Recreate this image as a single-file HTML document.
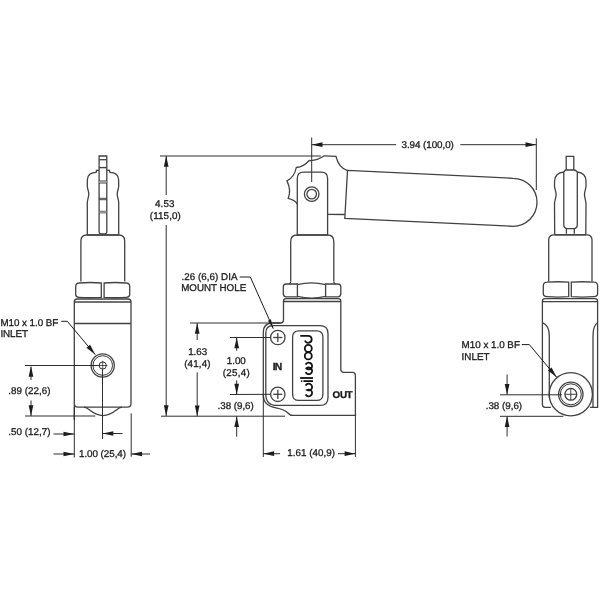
<!DOCTYPE html>
<html><head><meta charset="utf-8"><style>
html,body{margin:0;padding:0;background:#fff;width:600px;height:600px;overflow:hidden}
svg{display:block;filter:blur(0.3px)}
text{font-family:"Liberation Sans",sans-serif;text-rendering:geometricPrecision}
</style></head><body>
<svg width="600" height="600" viewBox="0 0 600 600">
<rect width="600" height="600" fill="#fff"/>
<path d="M99.1,232 V156 H106.8 V232 Q106.8,233.8 105,233.8 H100.9 Q99.1,233.8 99.1,232 Z" stroke="#424242" stroke-width="1.3" fill="none"/>
<line x1="99.1" y1="159.7" x2="106.8" y2="159.7" stroke="#424242" stroke-width="1.3"/>
<line x1="99.1" y1="167.6" x2="106.8" y2="167.6" stroke="#424242" stroke-width="1.4"/>
<line x1="99.1" y1="181" x2="106.8" y2="181" stroke="#2e2e2e" stroke-width="0.9"/>
<line x1="99.1" y1="183" x2="106.8" y2="183" stroke="#2e2e2e" stroke-width="0.9"/>
<line x1="99.1" y1="198.3" x2="106.8" y2="198.3" stroke="#2e2e2e" stroke-width="0.9"/>
<line x1="99.1" y1="199.7" x2="106.8" y2="199.7" stroke="#2e2e2e" stroke-width="0.9"/>
<line x1="99.1" y1="211.3" x2="106.8" y2="211.3" stroke="#2e2e2e" stroke-width="0.9"/>
<line x1="99.1" y1="212.8" x2="106.8" y2="212.8" stroke="#2e2e2e" stroke-width="0.9"/>
<rect x="99.1" y="181" width="7.7" height="2" fill="#999"/>
<rect x="99.1" y="211.3" width="7.7" height="1.5" fill="#999"/>
<path d="M96.4,172.4 V170.3 H99.1 M106.8,170.3 H109.6 V172.4" stroke="#424242" stroke-width="1.3" fill="none"/>
<path d="M96.4,172.4 C91.5,172.6 87.6,174.5 87.4,179.5 L87.3,186 C87.3,189 88.8,191 88.8,194 C88.8,197 87.3,199.5 87.3,203 L87.3,235 M109.6,172.4 C114.5,172.6 118.4,174.5 118.6,179.5 L118.7,186 C118.7,189 117.2,191 117.2,194 C117.2,197 118.7,199.5 118.7,203 L118.7,235" stroke="#424242" stroke-width="1.3" fill="none"/>
<line x1="87.3" y1="235" x2="118.7" y2="235" stroke="#424242" stroke-width="1.3"/>
<path d="M80.9,281.5 V241 Q80.9,235 86.9,235 H118.7 Q124.7,235 124.7,241 V281.5" stroke="#424242" stroke-width="1.3" fill="none"/>
<path d="M75.7,294.5 V286.5 Q75.7,283.2 79,283 Q90,282 101.3,283 V297.3 Q90,298.2 79,297.3 Q75.7,297.2 75.7,294.5 Z" stroke="#424242" stroke-width="1.3" fill="none"/>
<path d="M129.7,294.5 V286.5 Q129.7,283.2 126.4,283 Q115,282 104.1,283 V297.3 Q115,298.2 126.4,297.3 Q129.7,297.2 129.7,294.5 Z" stroke="#424242" stroke-width="1.3" fill="none"/>
<path d="M74.3,420 V302 Q74.3,299 77.3,299 H128 Q131,299 131,302 V403.5 Q131,407.2 127.3,407.2 H78 Q74.3,407.2 74.3,403.5" stroke="#424242" stroke-width="1.3" fill="none"/>
<line x1="74.3" y1="302" x2="131" y2="302" stroke="#424242" stroke-width="1.3"/>
<line x1="74.3" y1="323.5" x2="131" y2="323.5" stroke="#424242" stroke-width="1.3"/>
<path d="M84,407.2 C89.5,407.4 92,415.6 103,415.6 C114,415.6 116.5,407.4 122,407.2" stroke="#424242" stroke-width="1.3" fill="none"/>
<circle cx="102.7" cy="365.5" r="11.6" stroke="#424242" stroke-width="1.3" fill="none"/>
<circle cx="102.7" cy="365.5" r="9.8" stroke="#1c1c1c" stroke-width="0.9" fill="none"/>
<circle cx="102.7" cy="365.5" r="3.6" stroke="#1c1c1c" stroke-width="0.9" fill="none"/>
<line x1="98" y1="365.5" x2="107.4" y2="365.5" stroke="#2e2e2e" stroke-width="0.8"/>
<line x1="102.7" y1="360.8" x2="102.7" y2="370.2" stroke="#2e2e2e" stroke-width="0.8"/>
<text x="0.40" y="325.50" font-size="9.8" textLength="57.90" lengthAdjust="spacing" font-weight="normal" fill="#1c1c1c" stroke="#1c1c1c" stroke-width="0.3">M10 x 1.0 BF</text>
<text x="0.40" y="337.10" font-size="9.8" textLength="27.50" lengthAdjust="spacing" font-weight="normal" fill="#1c1c1c" stroke="#1c1c1c" stroke-width="0.3">INLET</text>
<path d="M61.3,321.3 H67.3 L95.2,354.6" stroke="#1c1c1c" stroke-width="1.0" fill="none"/>
<polygon points="95.2,354.6 86.46,347.83 90.07,344.81" fill="#1c1c1c"/>
<line x1="25" y1="365.5" x2="98.7" y2="365.5" stroke="#2e2e2e" stroke-width="1.0"/>
<line x1="25" y1="416" x2="95.3" y2="416" stroke="#2e2e2e" stroke-width="1.0"/>
<line x1="31" y1="380" x2="31" y2="366.7" stroke="#2e2e2e" stroke-width="1.0"/>
<polygon points="31,366 33.35,376.8 28.65,376.8" fill="#1c1c1c"/>
<line x1="31" y1="400.5" x2="31" y2="416" stroke="#2e2e2e" stroke-width="1.0"/>
<polygon points="31,416 28.65,405.2 33.35,405.2" fill="#1c1c1c"/>
<text x="8.30" y="394.20" font-size="9.8" textLength="42.20" lengthAdjust="spacing" font-weight="normal" fill="#1c1c1c" stroke="#1c1c1c" stroke-width="0.3">.89 (22,6)</text>
<line x1="74.3" y1="407" x2="74.3" y2="457.5" stroke="#2e2e2e" stroke-width="1.0"/>
<line x1="102.5" y1="369.3" x2="102.5" y2="439" stroke="#2e2e2e" stroke-width="1.0"/>
<line x1="131.2" y1="413.3" x2="131.2" y2="456.7" stroke="#2e2e2e" stroke-width="1.0"/>
<line x1="53.5" y1="434" x2="74.3" y2="434" stroke="#2e2e2e" stroke-width="1.0"/>
<polygon points="74.3,434 63.5,436.35 63.5,431.65" fill="#1c1c1c"/>
<line x1="122.5" y1="433.5" x2="102.5" y2="433.5" stroke="#2e2e2e" stroke-width="1.0"/>
<polygon points="102.5,433.5 113.3,431.15 113.3,435.85" fill="#1c1c1c"/>
<text x="8.30" y="435.30" font-size="9.8" textLength="42.20" lengthAdjust="spacing" font-weight="normal" fill="#1c1c1c" stroke="#1c1c1c" stroke-width="0.3">.50 (12,7)</text>
<line x1="53.5" y1="454" x2="74.3" y2="454" stroke="#2e2e2e" stroke-width="1.0"/>
<polygon points="74.3,454 63.5,456.35 63.5,451.65" fill="#1c1c1c"/>
<line x1="150" y1="454" x2="131.2" y2="454" stroke="#2e2e2e" stroke-width="1.0"/>
<polygon points="131.2,454 142,451.65 142,456.35" fill="#1c1c1c"/>
<text x="79.00" y="456.70" font-size="9.8" textLength="47.00" lengthAdjust="spacing" font-weight="normal" fill="#1c1c1c" stroke="#1c1c1c" stroke-width="0.3">1.00 (25,4)</text>
<line x1="160" y1="156" x2="320.8" y2="156" stroke="#2e2e2e" stroke-width="1.0"/>
<line x1="166.2" y1="156" x2="166.2" y2="195" stroke="#2e2e2e" stroke-width="1.0"/>
<polygon points="166.2,156 168.55,166.8 163.85,166.8" fill="#1c1c1c"/>
<line x1="166.2" y1="225" x2="166.2" y2="416" stroke="#2e2e2e" stroke-width="1.0"/>
<polygon points="166.2,416 163.85,405.2 168.55,405.2" fill="#1c1c1c"/>
<text x="155.00" y="207.30" font-size="9.8" textLength="19.40" lengthAdjust="spacing" font-weight="normal" fill="#1c1c1c" stroke="#1c1c1c" stroke-width="0.3">4.53</text>
<text x="149.80" y="218.60" font-size="9.8" textLength="31.00" lengthAdjust="spacing" font-weight="normal" fill="#1c1c1c" stroke="#1c1c1c" stroke-width="0.3">(115,0)</text>
<line x1="311.7" y1="144.7" x2="396.2" y2="144.7" stroke="#2e2e2e" stroke-width="1.0"/>
<polygon points="311.7,144.7 322.5,142.35 322.5,147.05" fill="#1c1c1c"/>
<line x1="460.3" y1="144.7" x2="536.3" y2="144.7" stroke="#2e2e2e" stroke-width="1.0"/>
<polygon points="536.3,144.7 525.5,147.05 525.5,142.35" fill="#1c1c1c"/>
<text x="401.50" y="147.80" font-size="9.8" textLength="52.30" lengthAdjust="spacing" font-weight="normal" fill="#1c1c1c" stroke="#1c1c1c" stroke-width="0.3">3.94 (100,0)</text>
<line x1="311.7" y1="137.5" x2="311.7" y2="182" stroke="#2e2e2e" stroke-width="1.0"/>
<line x1="536.3" y1="138.3" x2="536.3" y2="190" stroke="#2e2e2e" stroke-width="1.0"/>
<path d="M297.3,204.3 Q295.55,200.28 288.2,198.4 Q291.53,190.38 287.0,180.9 Q294.49,177.02 296.3,167.5 Q303.61,166.88 309.2,160.5 Q316.33,161.12 324.3,155.8 L336,156.3 Q338.5,167.5 347.5,170.6" stroke="#424242" stroke-width="1.3" fill="none"/>
<path d="M297.3,236 V178.5 Q297.3,172.2 303.5,172.2 H321.4 Q327.6,172.2 327.6,178.5 V235" stroke="#424242" stroke-width="1.3" fill="none"/>
<circle cx="311.7" cy="194.1" r="7.3" stroke="#424242" stroke-width="1.3" fill="none"/>
<circle cx="311.7" cy="194.1" r="4.8" stroke="#424242" stroke-width="1.3" fill="none"/>
<path d="M347.5,170.4 L513,178.3 A24,24 0 0 1 513,226.3 L344.8,218.3 Z" stroke="#424242" stroke-width="1.3" fill="none"/>
<line x1="327.6" y1="214.3" x2="344.8" y2="214.5" stroke="#424242" stroke-width="1.3"/>
<line x1="297.3" y1="235" x2="327.6" y2="235" stroke="#424242" stroke-width="1.3"/>
<path d="M290.7,281.5 V241.5 Q290.7,235 297.2,235 H327.3 Q333.8,235 333.8,241.5 V281.5" stroke="#424242" stroke-width="1.3" fill="none"/>
<path d="M283.3,293.8 V287 Q283.3,284 286.3,284 H297.4 V296.8 H286.3 Q283.3,296.8 283.3,293.8 Z" stroke="#424242" stroke-width="1.3" fill="none"/>
<path d="M340.8,293.8 V287 Q340.8,284 337.8,284 H325.6 V296.8 H337.8 Q340.8,296.8 340.8,293.8 Z" stroke="#424242" stroke-width="1.3" fill="none"/>
<path d="M297.4,284.6 Q311.5,281.2 325.6,284.6 M297.4,296.4 Q311.5,299.8 325.6,296.4" stroke="#424242" stroke-width="1.3" fill="none"/>
<path d="M290.7,281.5 Q290.7,283.5 289,284 M333.8,281.5 Q333.8,283.5 335.5,284" stroke="#424242" stroke-width="1.3" fill="none"/>
<path d="M283.5,320 V301 Q283.5,298.6 286,298.6 H338.3 Q340.8,298.6 340.8,301 V369.3 Q340.8,372.4 344,372.4 H352.5 Q355.4,372.4 355.4,375.4 V415.3 H290.4" stroke="#424242" stroke-width="1.3" fill="none"/>
<line x1="283.5" y1="301.5" x2="340.8" y2="301.5" stroke="#424242" stroke-width="1.3"/>
<path d="M283.5,320 Q283.5,323 280.5,323 H272.5 Q263.3,323 263.3,332.5 V395 C263.3,402 268,406.5 276,407.8 C283,409 286,411 288.5,413.5 Q290,415.3 292,415.3" stroke="#424242" stroke-width="1.3" fill="none"/>
<path d="M265.8,333 Q265.8,325.7 273,325.7 H320 Q328,325.7 328,333.7 V397.4 Q328,405.4 320,405.4 H277 Q265.8,405.4 265.8,394.2 Z" stroke="#424242" stroke-width="1.3" fill="none"/>
<path d="M298.8,330.9 H316.7 Q322.9,330.9 322.9,337.1 V394.2 Q322.9,400.4 316.7,400.4 H298.8 Q292.6,400.4 292.6,394.2 V337.1 Q292.6,330.9 298.8,330.9 Z" stroke="#424242" stroke-width="1.3" fill="none"/>
<path d="M300.3,335.8 H308.2 A3.5,3.5 0 1 1 304.9,340.5" stroke="#111" stroke-width="1.8" fill="none"/>
<circle cx="308.3" cy="348.4" r="3.5" stroke="#111" stroke-width="1.8" fill="none"/>
<circle cx="308.3" cy="355.9" r="3.5" stroke="#111" stroke-width="1.8" fill="none"/>
<path d="M305.62,364.56 A3.4,3.4 0 1 1 306.29,368.4 A3.4,3.4 0 1 1 305.62,372.24" stroke="#111" stroke-width="1.8" fill="none"/>
<path d="M300.1,378 H313" stroke="#111" stroke-width="1.8" fill="none"/>
<path d="M303.4,381.1 H313" stroke="#111" stroke-width="1.8" fill="none"/>
<circle cx="301.6" cy="381.1" r="0.9" fill="#111"/>
<path d="M305.62,385.56 A3.4,3.4 0 1 1 307.1,390 A3.4,3.4 0 1 1 305.62,394.44" stroke="#111" stroke-width="1.8" fill="none"/>
<circle cx="277.8" cy="337.5" r="7.2" stroke="#424242" stroke-width="1.3" fill="none"/>
<line x1="273.2" y1="337.5" x2="282.4" y2="337.5" stroke="#424242" stroke-width="1.3"/>
<line x1="277.8" y1="332.9" x2="277.8" y2="342.1" stroke="#424242" stroke-width="1.3"/>
<circle cx="277.8" cy="394.3" r="7.2" stroke="#424242" stroke-width="1.3" fill="none"/>
<line x1="273.2" y1="394.3" x2="282.4" y2="394.3" stroke="#424242" stroke-width="1.3"/>
<line x1="277.8" y1="389.7" x2="277.8" y2="398.9" stroke="#424242" stroke-width="1.3"/>
<text x="272.70" y="370.30" font-size="10.3" textLength="9.40" lengthAdjust="spacing" font-weight="bold" fill="#1c1c1c" stroke="#1c1c1c" stroke-width="0.35">IN</text>
<text x="332.60" y="397.80" font-size="9.8" textLength="20.00" lengthAdjust="spacing" font-weight="bold" fill="#1c1c1c" stroke="#1c1c1c" stroke-width="0.35">OUT</text>
<text x="181.40" y="280.40" font-size="9.8" textLength="56.10" lengthAdjust="spacing" font-weight="normal" fill="#1c1c1c" stroke="#1c1c1c" stroke-width="0.3">.26 (6,6) DIA</text>
<text x="181.20" y="291.40" font-size="9.8" textLength="65.00" lengthAdjust="spacing" font-weight="normal" fill="#1c1c1c" stroke="#1c1c1c" stroke-width="0.3">MOUNT HOLE</text>
<path d="M239.7,277 H250.3 L273.3,328.7" stroke="#1c1c1c" stroke-width="1.0" fill="none"/>
<polygon points="273.3,328.7 267.98,320.67 270.9,319.37" fill="#1c1c1c"/>
<line x1="190" y1="323" x2="280.5" y2="323" stroke="#2e2e2e" stroke-width="1.0"/>
<line x1="230" y1="337.5" x2="270.6" y2="337.5" stroke="#2e2e2e" stroke-width="1.0"/>
<line x1="230" y1="394.5" x2="270.6" y2="394.3" stroke="#2e2e2e" stroke-width="1.0"/>
<line x1="161" y1="416.2" x2="285" y2="416.2" stroke="#2e2e2e" stroke-width="1.0"/>
<line x1="197.2" y1="340" x2="197.2" y2="323" stroke="#2e2e2e" stroke-width="1.0"/>
<polygon points="197.2,323 199.55,333.8 194.85,333.8" fill="#1c1c1c"/>
<text x="188.20" y="355.40" font-size="9.8" textLength="19.00" lengthAdjust="spacing" font-weight="normal" fill="#1c1c1c" stroke="#1c1c1c" stroke-width="0.3">1.63</text>
<text x="184.20" y="367.40" font-size="9.8" textLength="26.30" lengthAdjust="spacing" font-weight="normal" fill="#1c1c1c" stroke="#1c1c1c" stroke-width="0.3">(41,4)</text>
<line x1="197.2" y1="372.3" x2="197.2" y2="416.2" stroke="#2e2e2e" stroke-width="1.0"/>
<polygon points="197.2,416.2 194.85,405.4 199.55,405.4" fill="#1c1c1c"/>
<line x1="236.7" y1="350.8" x2="236.7" y2="337.5" stroke="#2e2e2e" stroke-width="1.0"/>
<polygon points="236.7,337.5 239.05,348.3 234.35,348.3" fill="#1c1c1c"/>
<text x="226.80" y="364.00" font-size="9.8" textLength="19.00" lengthAdjust="spacing" font-weight="normal" fill="#1c1c1c" stroke="#1c1c1c" stroke-width="0.3">1.00</text>
<text x="222.80" y="376.00" font-size="9.8" textLength="27.00" lengthAdjust="spacing" font-weight="normal" fill="#1c1c1c" stroke="#1c1c1c" stroke-width="0.3">(25,4)</text>
<line x1="236.7" y1="380.3" x2="236.7" y2="394.5" stroke="#2e2e2e" stroke-width="1.0"/>
<polygon points="236.7,394.5 234.35,383.7 239.05,383.7" fill="#1c1c1c"/>
<text x="217.50" y="409.40" font-size="9.8" textLength="36.30" lengthAdjust="spacing" font-weight="normal" fill="#1c1c1c" stroke="#1c1c1c" stroke-width="0.3">.38 (9,6)</text>
<line x1="236.7" y1="436.7" x2="236.7" y2="416.2" stroke="#2e2e2e" stroke-width="1.0"/>
<polygon points="236.7,416.2 239.05,427 234.35,427" fill="#1c1c1c"/>
<line x1="263.3" y1="395" x2="263.3" y2="457" stroke="#2e2e2e" stroke-width="1.0"/>
<line x1="355.4" y1="415.3" x2="355.4" y2="457" stroke="#2e2e2e" stroke-width="1.0"/>
<line x1="263.3" y1="453.7" x2="280" y2="453.7" stroke="#2e2e2e" stroke-width="1.0"/>
<polygon points="263.3,453.7 274.1,451.35 274.1,456.05" fill="#1c1c1c"/>
<line x1="338" y1="453.7" x2="355.4" y2="453.7" stroke="#2e2e2e" stroke-width="1.0"/>
<polygon points="355.4,453.7 344.6,456.05 344.6,451.35" fill="#1c1c1c"/>
<text x="287.30" y="456.30" font-size="9.8" textLength="47.70" lengthAdjust="spacing" font-weight="normal" fill="#1c1c1c" stroke="#1c1c1c" stroke-width="0.3">1.61 (40,9)</text>
<path d="M566.2,170 V156.3 H573.8 V170" stroke="#424242" stroke-width="1.3" fill="none"/>
<path d="M563.8,172 Q565,170 566.2,170 H573.8 Q576,170 577.3,172" stroke="#424242" stroke-width="1.3" fill="none"/>
<path d="M563.8,172 C559,172.5 554.8,175 554.6,181 L554.5,186 C554.5,189 556.1,191 556.1,194.8 C556.1,198 554.5,200.5 554.5,204 L554.7,234.8 M577.3,172 C582,172.5 585.9,175 586,181 L586,186 C586,189 584.5,191 584.5,194.8 C584.5,198 586,200.5 586,204 L585.8,234.8" stroke="#424242" stroke-width="1.3" fill="none"/>
<path d="M563.8,172 V224.5 Q563.8,228.6 567.5,228.6 H573.6 Q577.3,228.6 577.3,224.5 V172" stroke="#424242" stroke-width="1.3" fill="none"/>
<path d="M566.4,228.6 V233.8 M574.3,228.6 V233.8" stroke="#424242" stroke-width="1.3" fill="none"/>
<line x1="554.7" y1="234.8" x2="585.8" y2="234.8" stroke="#424242" stroke-width="1.3"/>
<path d="M548.7,281.5 V240 Q548.7,234.8 554,234.8 H586.8 Q592,234.8 592,240 V281.5" stroke="#424242" stroke-width="1.3" fill="none"/>
<path d="M543.3,293.5 V286 Q543.3,282.3 547,282.2 Q558,281.3 568.7,282.2 V296.7 Q558,297.6 547,296.7 Q543.3,296.6 543.3,293.5 Z" stroke="#424242" stroke-width="1.3" fill="none"/>
<path d="M597.6,293.5 V286 Q597.6,282.3 594,282.2 Q582,281.3 571.3,282.2 V296.7 Q582,297.6 594,296.7 Q597.6,296.6 597.6,293.5 Z" stroke="#424242" stroke-width="1.3" fill="none"/>
<path d="M551,407.3 H545 Q542.4,407.3 542.4,404.5 V301.5 Q542.4,298.7 545,298.7 H595 Q597.6,298.7 597.6,301.5 V407.3 H590" stroke="#424242" stroke-width="1.3" fill="none"/>
<line x1="542.4" y1="301.6" x2="597.6" y2="301.6" stroke="#424242" stroke-width="1.3"/>
<path d="M542.4,322.7 Q549.3,325.5 549.3,336 V398" stroke="#424242" stroke-width="1.3" fill="none"/>
<path d="M597.6,322.7 Q593,325.5 593,336 V407.3" stroke="#424242" stroke-width="1.3" fill="none"/>
<circle cx="570.8" cy="394.3" r="21.6" stroke="#424242" stroke-width="1.3" fill="none"/>
<circle cx="570.8" cy="394.3" r="12.2" stroke="#424242" stroke-width="1.3" fill="none"/>
<circle cx="570.8" cy="394.3" r="10.5" stroke="#1c1c1c" stroke-width="0.9" fill="none"/>
<circle cx="570.8" cy="394.3" r="5.9" stroke="#424242" stroke-width="1.3" fill="none"/>
<line x1="565" y1="394.3" x2="576.6" y2="394.3" stroke="#2e2e2e" stroke-width="0.9"/>
<line x1="570.8" y1="388.5" x2="570.8" y2="400.1" stroke="#2e2e2e" stroke-width="0.9"/>
<text x="461.60" y="348.20" font-size="9.8" textLength="58.30" lengthAdjust="spacing" font-weight="normal" fill="#1c1c1c" stroke="#1c1c1c" stroke-width="0.3">M10 x 1.0 BF</text>
<text x="461.60" y="359.90" font-size="9.8" textLength="27.90" lengthAdjust="spacing" font-weight="normal" fill="#1c1c1c" stroke="#1c1c1c" stroke-width="0.3">INLET</text>
<path d="M521.8,344.6 H529.3 L556.7,377.3" stroke="#1c1c1c" stroke-width="1.0" fill="none"/>
<polygon points="556.7,377.3 547.96,370.53 551.56,367.51" fill="#1c1c1c"/>
<line x1="500" y1="394.8" x2="562" y2="394.8" stroke="#2e2e2e" stroke-width="1.0"/>
<line x1="500" y1="416.3" x2="563.3" y2="416.3" stroke="#2e2e2e" stroke-width="1.0"/>
<line x1="507.1" y1="374.5" x2="507.1" y2="394.8" stroke="#2e2e2e" stroke-width="1.0"/>
<polygon points="507.1,394.8 504.75,384 509.45,384" fill="#1c1c1c"/>
<line x1="507.1" y1="436.5" x2="507.1" y2="416.3" stroke="#2e2e2e" stroke-width="1.0"/>
<polygon points="507.1,416.3 509.45,427.1 504.75,427.1" fill="#1c1c1c"/>
<text x="485.70" y="409.10" font-size="9.8" textLength="36.40" lengthAdjust="spacing" font-weight="normal" fill="#1c1c1c" stroke="#1c1c1c" stroke-width="0.3">.38 (9,6)</text>
</svg>
</body></html>
